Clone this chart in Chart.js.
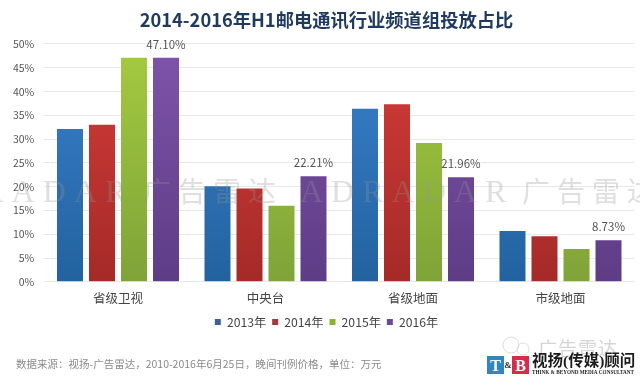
<!DOCTYPE html>
<html>
<head>
<meta charset="utf-8">
<script src="https://cdn.jsdelivr.net/npm/chart.js@4"></script>
<style>
html, body { margin: 0; padding: 0; background: #ffffff; }
#wrap { width: 640px; height: 381px; }
</style>
</head>
<body>
<div id="wrap"><canvas id="mailChart"></canvas></div>
<script>
const categories = ["省级卫视", "中央台", "省级地面", "市级地面"];
const years = ["2013年", "2014年", "2015年", "2016年"];
const values2013 = [32.1, 20.1, 36.4, 10.7];
const values2014 = [33.0, 19.6, 37.3, 9.6];
const values2015 = [47.1, 16.0, 29.2, 6.9];
const values2016 = [47.1, 22.21, 21.96, 8.73];
const labels2016 = ["47.10%", "22.21%", "21.96%", "8.73%"];
const titleText = "2014-2016年H1邮电通讯行业频道组投放占比";
const sourceText = "数据来源：视扬-广告雷达，2010-2016年6月25日，晚间刊例价格，单位：万元";

const cjk = '"Noto Sans CJK SC", "Noto Sans", sans-serif';
const serif = '"Liberation Serif", "Noto Sans CJK SC", serif';

function barGradient(top, bottom) {
    return function (context) {
        const area = context.chart.chartArea;
        if (!area) return bottom;
        const g = context.chart.ctx.createLinearGradient(0, area.top, 0, area.bottom);
        g.addColorStop(0, top);
        g.addColorStop(1, bottom);
        return g;
    };
}

// labels above the 2016 bars only
const valueLabels = {
    id: "valueLabels",
    afterDatasetsDraw(chart) {
        const ctx = chart.ctx;
        const bars = chart.getDatasetMeta(3).data;
        ctx.save();
        ctx.font = "11.5px " + cjk;
        ctx.fillStyle = "#555555";
        ctx.textAlign = "center";
        ctx.textBaseline = "alphabetic";
        bars.forEach((bar, i) => {
            ctx.fillText(labels2016[i], bar.x, bar.y - 9);
        });
        ctx.restore();
    }
};

// watermark, source line and logo
const decorations = {
    id: "decorations",
    afterDraw(chart) {
        const ctx = chart.ctx;
        ctx.save();

        ctx.fillStyle = "rgba(150, 150, 150, 0.3)";
        ctx.textBaseline = "alphabetic";
        ctx.font = "32px " + serif;
        ctx.letterSpacing = "8px";
        ctx.fillText("ADRADAR", -80, 202);
        ctx.fillText("ADRADAR", 300, 202);
        ctx.letterSpacing = "7px";
        ctx.font = "28px " + serif;
        ctx.fillText("广告雷达", 143, 202);
        ctx.fillText("广告雷达", 522, 202);
        ctx.letterSpacing = "0px";

        ctx.fillStyle = "#8a8a8a";
        ctx.font = "10.5px " + cjk;
        ctx.fillText(sourceText, 16, 368);

        ctx.strokeStyle = "#dddddd";
        ctx.lineWidth = 1;
        ctx.beginPath();
        ctx.arc(511, 345, 8, 0, Math.PI * 2);
        ctx.stroke();
        ctx.beginPath();
        ctx.arc(523, 349, 6, 0, Math.PI * 2);
        ctx.stroke();

        ctx.fillStyle = "#d5d5d5";
        ctx.letterSpacing = "1px";
        ctx.font = "19px " + cjk;
        ctx.fillText("广告雷达", 538, 356);
        ctx.letterSpacing = "0px";

        ctx.fillStyle = "#2f86c4";
        ctx.fillRect(487, 356, 17, 18);
        ctx.fillStyle = "#d92a4c";
        ctx.fillRect(512, 356, 17, 18);
        ctx.fillStyle = "#ffffff";
        ctx.font = "bold 16px " + serif;
        ctx.textAlign = "center";
        ctx.fillText("T", 495.5, 371);
        ctx.fillText("B", 520.5, 371);
        ctx.fillStyle = "#333333";
        ctx.font = "bold 9px " + serif;
        ctx.fillText("&", 508, 368);

        ctx.textAlign = "left";
        ctx.fillStyle = "#1c1c1c";
        ctx.font = "bold 15.5px " + serif;
        ctx.fillText("视扬(传媒)顾问", 532, 366);
        ctx.font = "bold 5.2px " + serif;
        ctx.fillText("THINK & BEYOND MEDIA CONSULTANT", 532, 374);
        ctx.restore();
    }
};

new Chart(document.getElementById("mailChart"), {
    type: "bar",
    data: {
        labels: categories,
        datasets: [
            { label: years[0], data: values2013, backgroundColor: barGradient("#3a80cc", "#22629f") },
            { label: years[1], data: values2014, backgroundColor: barGradient("#d43c38", "#a52a28") },
            { label: years[2], data: values2015, backgroundColor: barGradient("#a4cb40", "#7fa338") },
            { label: years[3], data: values2016, backgroundColor: barGradient("#7f54ab", "#5e3c85") }
        ]
    },
    options: {
        responsive: true,
        maintainAspectRatio: false,
        animation: false,
        categoryPercentage: 0.868,
        barPercentage: 0.8125,
        layout: { padding: { left: 13, right: 0, top: 0, bottom: 43 } },
        plugins: {
            title: {
                display: true,
                text: titleText,
                color: "#1f3a5f",
                font: { family: cjk, size: 18.3, weight: "bold" },
                padding: { top: 9, bottom: 13 }
            },
            legend: {
                position: "bottom",
                labels: {
                    color: "#444444",
                    font: { family: cjk, size: 12.2 },
                    boxWidth: 6,
                    boxHeight: 6,
                    padding: 6,
                    generateLabels() {
                        const colors = ["#3d6098", "#a5393b", "#8cb13a", "#6a4b98"];
                        return years.map((y, i) => ({
                            text: y, fillStyle: colors[i], strokeStyle: colors[i],
                            lineWidth: 0, datasetIndex: i, fontColor: "#444444"
                        }));
                    }
                }
            },
            tooltip: { enabled: false }
        },
        scales: {
            x: {
                afterFit(scale) { scale.height = 28; },
                grid: { display: false, drawTicks: false },
                border: { display: false },
                ticks: { color: "#444444", font: { family: cjk, size: 12.5 }, padding: 9 }
            },
            y: {
                min: 0,
                max: 50,
                afterFit(scale) { scale.width = 31.25; },
                grid: { color: "#e8e8e8", lineWidth: 1, drawTicks: false },
                border: { display: false },
                ticks: {
                    stepSize: 5,
                    padding: 10,
                    color: "#555555",
                    font: { family: cjk, size: 10.5 },
                    callback: v => v + "%"
                }
            },
            // empty right axis so the title and legend centre sits right of the plot centre
            rightGap: {
                type: "linear",
                axis: "y",
                position: "right",
                afterFit(scale) { scale.width = 5.75; },
                grid: { display: false },
                border: { display: false },
                ticks: { display: false }
            }
        }
    },
    plugins: [valueLabels, decorations]
});
</script>
</body>
</html>
